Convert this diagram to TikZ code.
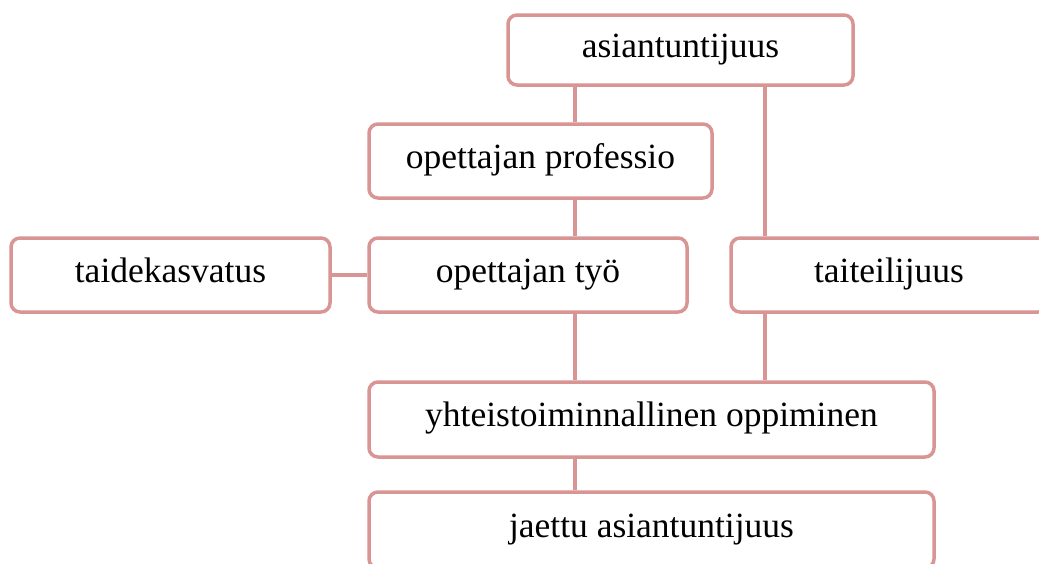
\documentclass[tikz,border=0pt]{standalone}
\usepackage{fontspec}
\setmainfont{Liberation Serif}
\definecolor{boxline}{HTML}{D99594}
\tikzset{
  x=1pt, y=-1pt,
  conceptbox/.style={draw=boxline, line width=3.5pt, rounded corners=9pt, fill=white,
    inner sep=0pt, minimum height=74pt, text height=22pt, text depth=8pt,
    font=\fontsize{35.5}{41}\selectfont, anchor=center},
  link/.style={draw=boxline, line width=3.5pt}
}
\begin{document}
\begin{tikzpicture}
\useasboundingbox (0,0) rectangle (1039,563);
\fill[white] (0,0) rectangle (1039,563);
\coordinate (c1) at (575,0);
\coordinate (c2) at (765,0);
\node[conceptbox, minimum width=345pt, minimum height=70pt] (A) at (680.5,50) {asiantuntijuus};
\node[conceptbox, minimum width=343pt] (P) at (540.5,161) {opettajan professio};
\node[conceptbox, minimum width=319pt] (T) at (170.5,275) {taidekasvatus};
\node[conceptbox, minimum width=318pt] (W) at (528,275) {opettajan työ};
\node[conceptbox, minimum width=316pt] (K) at (889,275) {taiteilijuus};
\node[conceptbox, minimum width=565pt, minimum height=75pt] (Y) at (651.5,419.5) {yhteistoiminnallinen oppiminen};
\node[conceptbox, minimum width=565pt, minimum height=76pt] (J) at (651.5,530) {jaettu asiantuntijuus};
\draw[link] (A.south -| c1) -- (P.north -| c1);
\draw[link] (A.south -| c2) -- (K.north -| c2);
\draw[link] (P.south -| c1) -- (W.north -| c1);
\draw[link] (T.east) -- (W.west);
\draw[link] (W.south -| c1) -- (Y.north -| c1);
\draw[link] (K.south -| c2) -- (Y.north -| c2);
\draw[link] (Y.south -| c1) -- (J.north -| c1);
\end{tikzpicture}
\end{document}
